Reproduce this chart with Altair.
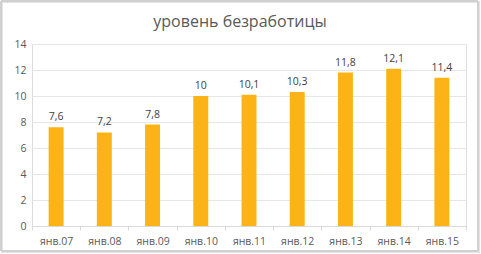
import altair as alt
import pandas as pd

categories = ["янв.07", "янв.08", "янв.09", "янв.10", "янв.11", "янв.12", "янв.13", "янв.14", "янв.15"]
values = [7.6, 7.2, 7.8, 10, 10.1, 10.3, 11.8, 12.1, 11.4]
y_ticks = [0, 2, 4, 6, 8, 10, 12, 14]
title_text = ["уровень безработицы"]

df = pd.DataFrame({"cat": categories, "v": values})

FONT = "Open Sans"
GRAY = "#595959"

base = alt.Chart(df).encode(
    x=alt.X("cat:N", sort=categories, title=None,
            scale=alt.Scale(paddingInner=0, paddingOuter=0),
            axis=alt.Axis(labelAngle=0, labelFont=FONT, labelFontSize=10.5, labelColor=GRAY,
                          labelPadding=6, tickBand="extent", tickSize=4, tickColor="#d9d9d9",
                          domainColor="#d9d9d9", grid=False)),
    y=alt.Y("v:Q", title=None,
            scale=alt.Scale(domain=[0, 14], nice=False),
            axis=alt.Axis(values=y_ticks, labelFont=FONT, labelFontSize=10.5, labelColor=GRAY,
                          labelPadding=6, ticks=False, domain=False, gridColor="#e6e6e6")),
)

bars = base.mark_bar(color="#FCB316", width=alt.RelativeBandSize(0.31))
labels = base.transform_calculate(
    lab="replace(toString(datum.v), '.', ',')"
).mark_text(baseline="bottom", dy=-5, font=FONT, fontSize=10.5, color="#404040").encode(text="lab:N")

shadow = alt.Chart(df).mark_rect(fill=None, stroke="#e4e4e4", strokeWidth=2).encode(
    x=alt.value(-30), x2=alt.value(447), y=alt.value(-42), y2=alt.value(208)
)
border = alt.Chart(df).mark_rect(fill=None, stroke="#d0d0d0", strokeWidth=1).encode(
    x=alt.value(-31), x2=alt.value(446), y=alt.value(-43), y2=alt.value(207)
)

title = alt.Chart(pd.DataFrame({"t": title_text})).mark_text(
    font=FONT, fontSize=16, color=GRAY, align="center", baseline="middle"
).encode(text="t:N", x=alt.value(208), y=alt.value(-22))

chart = alt.layer(shadow, border, bars, labels, title).properties(
    width=434, height=182,
    autosize=alt.AutoSizeParams(type="none"),
    padding={"left": 32, "top": 44, "right": 15, "bottom": 28},
).configure_view(stroke=None).configure(background="white")

chart.save("out.html", embed_options={"renderer": "svg", "actions": False})
